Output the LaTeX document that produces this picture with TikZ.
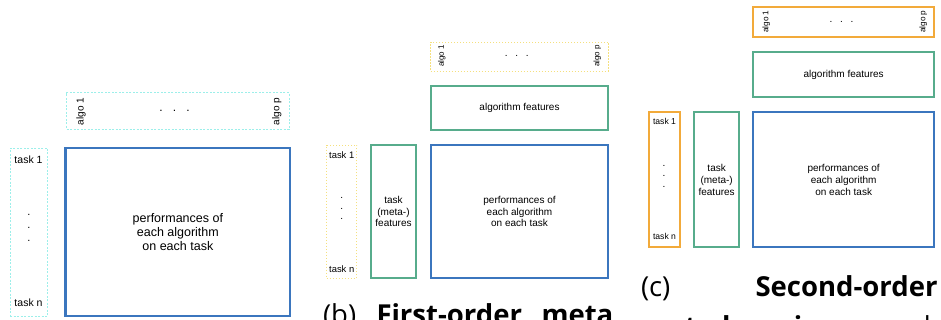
\documentclass[tikz,border=0pt]{standalone}
\usepackage{fontspec}
\setmainfont{Liberation Sans}
\newfontfamily\capfont{Open Sans}
\definecolor{cblue}{HTML}{3B76BE}
\definecolor{cgreen}{HTML}{57AC8C}
\definecolor{corange}{HTML}{F2AA3A}
\definecolor{ccyan}{HTML}{9CEFEA}
\definecolor{cyellow}{HTML}{F5E07E}
\begin{document}
\begin{tikzpicture}[x=1pt,y=-1pt,
  box/.style={draw, inner sep=0pt, outer sep=0pt, anchor=north west, align=center},
  perfbox/.style={box, draw=cblue, line width=2pt},
  featbox/.style={box, draw=cgreen, line width=2pt},
  orbox/.style={box, draw=corange, line width=2pt},
  cyanbox/.style={box, draw=ccyan, line width=0.8pt, dash pattern=on 2pt off 1.5pt},
  yelbox/.style={box, draw=cyellow, line width=0.8pt, dash pattern=on 1.5pt off 1.5pt},
  lbl/.style={inner sep=0pt, outer sep=0pt},
  dotlbl/.style={inner sep=0pt, outer sep=0pt, anchor=base},
  captxt/.style={inner sep=0pt, outer sep=0pt, anchor=base west, font=\capfont\fontsize{27.5}{33}\selectfont},
  captxtb/.style={captxt, font=\capfont\bfseries\fontsize{27.5}{33}\selectfont}]
\useasboundingbox (0,0) rectangle (941,320);
\clip (0,0) rectangle (941,320);

% ---------- panel (a) ----------
\node[cyanbox, minimum width=222.3pt, minimum height=36.6pt] (algoA) at (66.7,92.7) {};
\node[cyanbox, minimum width=37.7pt, minimum height=167.7pt] (taskA) at (10,148.3) {};
\node[perfbox, line width=2.5pt, minimum width=224.3pt, minimum height=168pt,
      font=\fontsize{12.5}{14.3}\selectfont] (perfA) at (65.7,148)
      {performances of\\each algorithm\\on each task};
\node[lbl, rotate=90, font=\fontsize{10}{12}\selectfont] (a1A) at (81,111.7) {algo 1};
\node[lbl, rotate=90, font=\fontsize{10}{12}\selectfont] (apA) at (276.7,111.7) {algo p};
\node[dotlbl, font=\fontsize{12}{14}\selectfont] (hdA) at (174.5,112) {.\hspace{10.2pt}.\hspace{10.2pt}.};
\node[lbl, font=\fontsize{10.5}{12}\selectfont] (t1A) at (28.5,160) {task 1};
\node[lbl, font=\fontsize{10.5}{12}\selectfont] (tnA) at (28.5,303) {task n};
\node[dotlbl, font=\fontsize{11}{12}\selectfont] (vA1) at (29,215.6) {.};
\node[dotlbl, font=\fontsize{11}{12}\selectfont] (vA2) at (29,228.6) {.};
\node[dotlbl, font=\fontsize{11}{12}\selectfont] (vA3) at (29,241.6) {.};

% ---------- panel (b) ----------
\node[yelbox, minimum width=177.6pt, minimum height=29.3pt] (algoB) at (430.7,42) {};
\node[featbox, minimum width=177.6pt, minimum height=44pt,
      font=\fontsize{10}{11.4}\selectfont] (featB) at (430.7,86) {algorithm features};
\node[perfbox, minimum width=177.6pt, minimum height=133.3pt,
      font=\fontsize{10}{11.4}\selectfont] (perfB) at (430.7,145)
      {performances of\\each algorithm\\on each task};
\node[yelbox, minimum width=30pt, minimum height=133.3pt] (taskB) at (326.7,145) {};
\node[featbox, minimum width=45pt, minimum height=133.3pt,
      font=\fontsize{10}{11.4}\selectfont] (tfeatB) at (371,145)
      {task\\(meta-)\\features};
\node[lbl, rotate=90, font=\fontsize{8}{10}\selectfont] (a1B) at (441.7,56) {algo 1};
\node[lbl, rotate=90, font=\fontsize{8}{10}\selectfont] (apB) at (597.3,56) {algo p};
\node[dotlbl, font=\fontsize{10}{12}\selectfont] (hdB) at (516.7,57) {.\hspace{7.7pt}.\hspace{7.7pt}.};
\node[lbl, font=\fontsize{9.4}{11}\selectfont] (t1B) at (341.7,155.3) {task 1};
\node[lbl, font=\fontsize{9.4}{11}\selectfont] (tnB) at (341.7,268.7) {task n};
\node[dotlbl, font=\fontsize{10}{12}\selectfont] (vB1) at (341.7,198.8) {.};
\node[dotlbl, font=\fontsize{10}{12}\selectfont] (vB2) at (341.7,209.2) {.};
\node[dotlbl, font=\fontsize{10}{12}\selectfont] (vB3) at (341.7,219.6) {.};

% ---------- panel (c) ----------
\node[orbox, minimum width=180.7pt, minimum height=30.6pt] (algoC) at (753.3,6.7) {};
\node[featbox, minimum width=180.7pt, minimum height=45pt,
      font=\fontsize{10}{11.7}\selectfont] (featC) at (753.3,52.3) {algorithm features};
\node[perfbox, minimum width=180.7pt, minimum height=135pt,
      font=\fontsize{10}{11.7}\selectfont] (perfC) at (753.3,112.3)
      {performances of\\each algorithm\\on each task};
\node[orbox, minimum width=30.7pt, minimum height=135pt] (taskC) at (649.3,112.3) {};
\node[featbox, minimum width=45.3pt, minimum height=135pt,
      font=\fontsize{10}{11.7}\selectfont] (tfeatC) at (694,112.3)
      {task\\(meta-)\\features};
\node[lbl, rotate=90, font=\fontsize{8.2}{10}\selectfont] (a1C) at (766.2,21.7) {algo 1};
\node[lbl, rotate=90, font=\fontsize{8.2}{10}\selectfont] (apC) at (923.3,21.7) {algo p};
\node[dotlbl, font=\fontsize{10}{12}\selectfont] (hdC) at (841.5,22.8) {.\hspace{7.7pt}.\hspace{7.7pt}.};
\node[lbl, font=\fontsize{8.6}{10}\selectfont] (t1C) at (664.5,121.7) {task 1};
\node[lbl, font=\fontsize{8.6}{10}\selectfont] (tnC) at (664.5,236.7) {task n};
\node[dotlbl, font=\fontsize{10}{12}\selectfont] (vC1) at (664,166.3) {.};
\node[dotlbl, font=\fontsize{10}{12}\selectfont] (vC2) at (664,176.8) {.};
\node[dotlbl, font=\fontsize{10}{12}\selectfont] (vC3) at (664,187.3) {.};

% ---------- captions (cut off at the bottom) ----------
\node[captxt] (capc) at (641,296) {(c)};
\node[captxtb] (capc2) at (755.5,296) {Second-order};
\node[captxt] (capbl) at (323,324) {(b)};
\node[captxtb] (capb1) at (376.5,324) {First-order};
\node[captxtb] (capb2) at (541.5,324) {meta};
\node[captxtb] (capc3) at (641.5,336) {meta-learning};
\node[captxt] (capc4) at (908.5,336) {al};
\end{tikzpicture}
\end{document}
